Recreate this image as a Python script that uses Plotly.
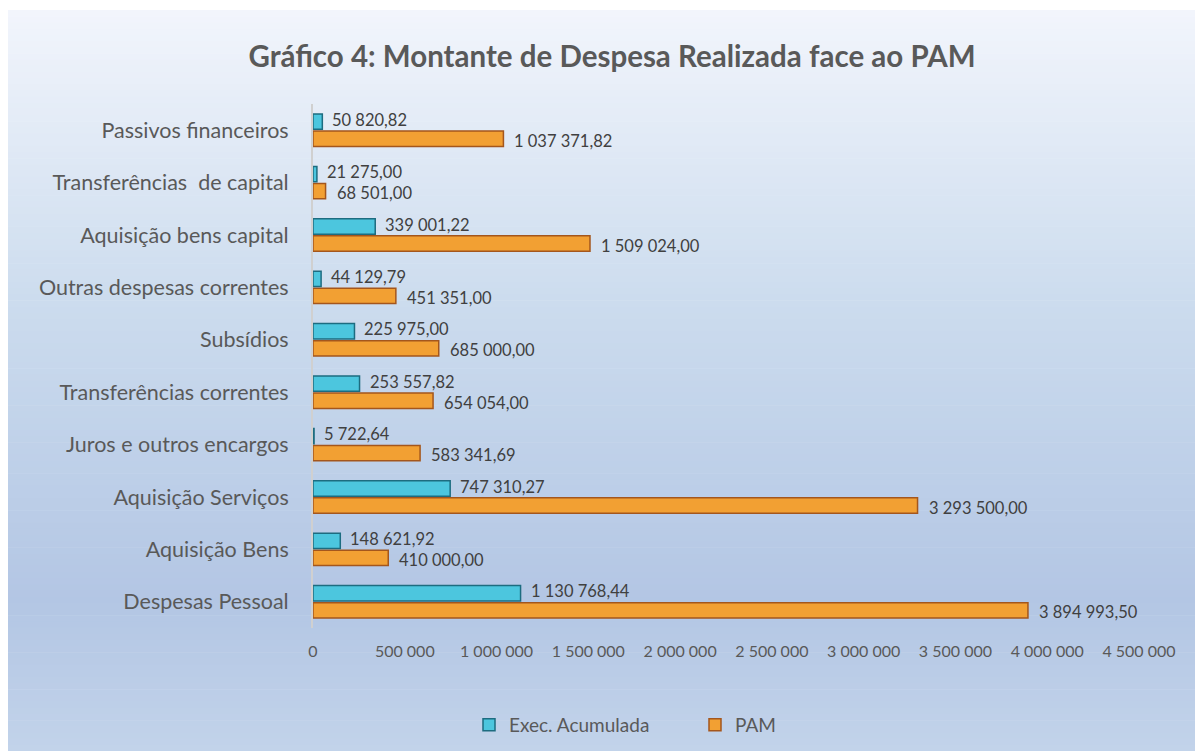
import plotly.graph_objects as go

categories = ["Despesas Pessoal", "Aquisição Bens", "Aquisição Serviços",
              "Juros e outros encargos", "Transferências correntes", "Subsídios",
              "Outras despesas correntes", "Aquisição bens capital",
              "Transferências  de capital", "Passivos financeiros"]
exec_acumulada = [1130768.44, 148621.92, 747310.27, 5722.64, 253557.82,
                  225975.00, 44129.79, 339001.22, 21275.00, 50820.82]
pam = [3894993.50, 410000.00, 3293500.00, 583341.69, 654054.00,
       685000.00, 451351.00, 1509024.00, 68501.00, 1037371.82]
x_ticks = [0, 500000, 1000000, 1500000, 2000000, 2500000, 3000000,
           3500000, 4000000, 4500000]


def fmt(v, dec=2):
    s = f"{v:,.{dec}f}"
    return s.replace(",", " ").replace(".", ",")


# page body adds an 8px offset; work in figure coordinates
OFF = 8
W, H = 1203 - OFF, 751 - OFF
L, R, T, B = 313 - OFF, 64, 104 - OFF, 123
pw, ph = W - L - R, H - T - B


def px(p):
    return (p - L) / pw


def py(q):
    return (H - B - q) / ph


FONT = "Lato, Open Sans, sans-serif"
fig = go.Figure()

# background gradient (style only)
stops = [(2, (242, 245, 252)), (292, (204, 220, 238)), (592, (179, 198, 228)), (H, (194, 211, 234))]
shapes = []
n = 120
y0p, y1p = 2, H
for i in range(n):
    a = y0p + (y1p - y0p) * i / n
    b = y0p + (y1p - y0p) * (i + 1) / n
    m = (a + b) / 2
    for j in range(len(stops) - 1):
        if stops[j][0] <= m <= stops[j + 1][0]:
            t = (m - stops[j][0]) / (stops[j + 1][0] - stops[j][0])
            c = tuple(round(stops[j][1][k] + (stops[j + 1][1][k] - stops[j][1][k]) * t) for k in range(3))
            break
    shapes.append(dict(type="rect", xref="paper", yref="paper", layer="below",
                       x0=px(-1), x1=px(W + 2), y0=py(b + 0.6), y1=py(a),
                       fillcolor=f"rgb{c}", line=dict(width=0)))

fig.add_trace(go.Bar(
    y=categories, x=pam, orientation="h", name="PAM", legendrank=2,
    marker=dict(color="#f2a033", line=dict(color="#a4561c", width=1.5)),
    hoverinfo="x+y",
))
fig.add_trace(go.Bar(
    y=categories, x=exec_acumulada, orientation="h", name="Exec. Acumulada", legendrank=1,
    marker=dict(color="#4cc6de", line=dict(color="#1d6c80", width=1.5)),
    hoverinfo="x+y",
))

annotations = []
for cat, v in zip(categories, exec_acumulada):
    annotations.append(dict(x=v, y=cat, xref="x", yref="y", text=fmt(v), showarrow=False,
                            xanchor="left", yanchor="middle", xshift=8, yshift=10.5,
                            font=dict(family=FONT, size=16.5, color="#404040")))
for cat, v in zip(categories, pam):
    annotations.append(dict(x=v, y=cat, xref="x", yref="y", text=fmt(v), showarrow=False,
                            xanchor="left", yanchor="middle", xshift=9, yshift=-10.5,
                            font=dict(family=FONT, size=16.5, color="#404040")))

fig.update_layout(
    width=W, height=H,
    margin=dict(l=L, r=R, t=T, b=B, autoexpand=False),
    paper_bgcolor="white", plot_bgcolor="rgba(0,0,0,0)",
    barmode="group", bargap=0.35, bargroupgap=0.1,
    shapes=shapes, annotations=annotations,
    font=dict(family=FONT, color="#595959"),
    title=dict(text="<b>Gráfico 4: Montante de Despesa Realizada face ao PAM</b>",
               x=(612 - OFF) / W, xanchor="center", y=1 - (57 - OFF) / H, yanchor="middle",
               font=dict(size=29.5, color="#595959")),
    xaxis=dict(range=[0, 4500000], tickvals=x_ticks, ticktext=[fmt(v, 0) for v in x_ticks],
               showgrid=False, zeroline=False, showline=False, ticks="",
               tickfont=dict(size=16, color="#595959"), ticklabelstandoff=12),
    yaxis=dict(showgrid=False, zeroline=False, showline=True, linecolor="#d0d0d0", linewidth=2,
               ticks="", tickfont=dict(size=21.5, color="#595959"), ticklabelstandoff=18),
    legend=dict(orientation="h", x=(469 - OFF) / W, xanchor="left",
                xref="container", y=1 - (725 - OFF) / H, yref="container", yanchor="middle",
                font=dict(size=19, color="#595959"), entrywidth=181, itemwidth=30,
                bgcolor="rgba(0,0,0,0)"),
    showlegend=True,
)

fig.write_html("out.html")
